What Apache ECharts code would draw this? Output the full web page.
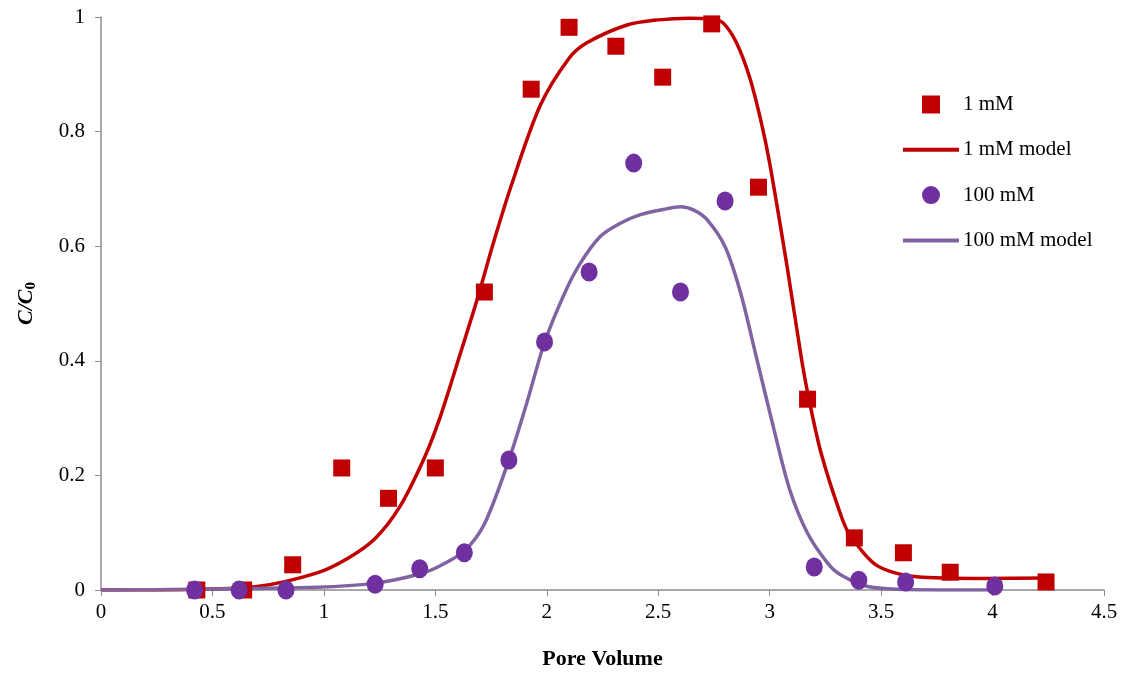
<!DOCTYPE html>
<html>
<head>
<meta charset="utf-8">
<script src="https://cdn.jsdelivr.net/npm/echarts@6/dist/echarts.min.js"></script>
<style>
  html, body { margin: 0; padding: 0; background: #fff; }
  #chart { width: 1137px; height: 675px; }
</style>
</head>
<body>
<div id="chart"></div>
<script>
// Measured breakthrough data (pore volume vs C/C0)
const pv1mM = [0.43, 0.64, 0.86, 1.08, 1.29, 1.50, 1.72, 1.93, 2.10, 2.31, 2.52, 2.74, 2.95, 3.17, 3.38, 3.60, 3.81, 4.24];
const c1mM  = [0, 0, 0.044, 0.213, 0.16, 0.213, 0.52, 0.874, 0.982, 0.949, 0.895, 0.988, 0.703, 0.333, 0.091, 0.065, 0.031, 0.014];

const pv100mM = [0.42, 0.62, 0.83, 1.23, 1.43, 1.63, 1.83, 1.99, 2.19, 2.39, 2.60, 2.80, 3.20, 3.40, 3.61, 4.01];
const c100mM  = [0, 0, 0, 0.01, 0.037, 0.065, 0.227, 0.433, 0.555, 0.745, 0.52, 0.679, 0.04, 0.017, 0.014, 0.007];

// Model curves
const pvModel1mM = [0, 0.4, 0.7, 0.97, 1.11, 1.23, 1.34, 1.45, 1.52, 1.61, 1.69, 1.76, 1.84, 1.97, 2.10, 2.18, 2.36, 2.50, 2.64, 2.74, 2.79, 2.85, 2.91, 2.96, 3.00, 3.08, 3.14, 3.17, 3.23, 3.32, 3.36, 3.48, 3.66, 3.96, 4.25];
const cModel1mM  = [0, 0.001, 0.006, 0.03, 0.056, 0.09, 0.145, 0.23, 0.30, 0.41, 0.51, 0.605, 0.705, 0.845, 0.928, 0.955, 0.986, 0.995, 0.998, 0.996, 0.99, 0.956, 0.895, 0.82, 0.745, 0.56, 0.41, 0.345, 0.24, 0.13, 0.096, 0.043, 0.023, 0.02, 0.021];

const pvModel100mM = [0, 0.97, 1.23, 1.43, 1.52, 1.63, 1.72, 1.83, 1.91, 1.99, 2.08, 2.15, 2.24, 2.33, 2.42, 2.52, 2.60, 2.66, 2.72, 2.80, 2.87, 2.94, 3.02, 3.09, 3.17, 3.26, 3.32, 3.44, 3.60, 4.01];
const cModel100mM  = [0, 0.005, 0.012, 0.028, 0.042, 0.068, 0.115, 0.227, 0.326, 0.432, 0.518, 0.570, 0.617, 0.640, 0.655, 0.664, 0.669, 0.663, 0.646, 0.599, 0.518, 0.407, 0.279, 0.175, 0.099, 0.047, 0.026, 0.006, 0.001, 0];

const seriesNames = ['1 mM', '1 mM model', '100 mM', '100 mM model'];

const zip = (xs, ys) => xs.map((x, i) => [x, ys[i]]);

const FONT = '"Liberation Serif", "Times New Roman", serif';
const AXIS_GRAY = '#8c8c8c';
const RED = '#C00000';
const PURPLE_LINE = '#8064A2';
const PURPLE_DOT = '#7030A0';

// Legend glyphs: solid square for data, flat bar for model curves
const SQUARE_ICON = 'path://M0,0L10,0L10,10L0,10Z';
const BAR_ICON = 'path://M0,0L56,0L56,4L0,4Z';

const chart = echarts.init(document.getElementById('chart'));
chart.setOption({
  animation: false,
  textStyle: { fontFamily: FONT },
  grid: { left: 101, right: 33, top: 17, bottom: 85 },
  legend: {
    orient: 'vertical',
    left: 903,
    top: 94,
    padding: 0,
    itemWidth: 56,
    itemHeight: 18,
    itemGap: 24.3,
    symbolKeepAspect: true,
    textStyle: { fontFamily: FONT, fontSize: 21, color: '#000', padding: [0, 0, 0, -1] },
    data: [
      { name: seriesNames[0], icon: SQUARE_ICON },
      { name: seriesNames[1], icon: BAR_ICON },
      { name: seriesNames[2], icon: 'circle' },
      { name: seriesNames[3], icon: BAR_ICON }
    ]
  },
  xAxis: {
    type: 'value',
    min: 0,
    max: 4.5,
    interval: 0.5,
    name: 'Pore Volume',
    nameLocation: 'middle',
    nameGap: 58,
    nameTextStyle: { fontFamily: FONT, fontSize: 22, fontWeight: 'bold', color: '#000' },
    axisLine: { show: true, lineStyle: { color: AXIS_GRAY, width: 1.5 } },
    axisTick: { show: true, inside: false, length: 6, lineStyle: { color: AXIS_GRAY } },
    axisLabel: { fontFamily: FONT, fontSize: 21, color: '#000', margin: 12 },
    splitLine: { show: false }
  },
  yAxis: {
    type: 'value',
    min: 0,
    max: 1,
    interval: 0.2,
    name: '{i|C/C}{s|0}',
    nameLocation: 'middle',
    nameGap: 62,
    nameRotate: 90,
    nameTextStyle: {
      rich: {
        i: { fontFamily: FONT, fontSize: 22, fontWeight: 'bold', fontStyle: 'italic', color: '#000' },
        s: { fontFamily: FONT, fontSize: 15, fontWeight: 'bold', color: '#000', verticalAlign: 'bottom', padding: [10, 0, 0, 0] }
      }
    },
    axisLine: { show: true, lineStyle: { color: AXIS_GRAY, width: 1.5 } },
    axisTick: { show: true, inside: false, length: 6, lineStyle: { color: AXIS_GRAY } },
    axisLabel: { fontFamily: FONT, fontSize: 21, color: '#000', margin: 16 },
    splitLine: { show: false }
  },
  series: [
    {
      name: seriesNames[1],
      type: 'line',
      data: zip(pvModel1mM, cModel1mM),
      showSymbol: false,
      symbol: 'none',
      smooth: 0.3,
      lineStyle: { color: RED, width: 3.5 },
      itemStyle: { color: RED },
      z: 2
    },
    {
      name: seriesNames[3],
      type: 'line',
      data: zip(pvModel100mM, cModel100mM),
      showSymbol: false,
      symbol: 'none',
      smooth: 0.3,
      lineStyle: { color: PURPLE_LINE, width: 3.5 },
      itemStyle: { color: PURPLE_LINE },
      z: 2
    },
    {
      name: seriesNames[0],
      type: 'scatter',
      data: zip(pv1mM, c1mM),
      symbol: 'rect',
      symbolSize: 17,
      itemStyle: { color: RED, opacity: 1 },
      z: 3
    },
    {
      name: seriesNames[2],
      type: 'scatter',
      data: zip(pv100mM, c100mM),
      symbol: 'circle',
      symbolSize: [17, 19],
      itemStyle: { color: PURPLE_DOT, opacity: 1 },
      z: 4
    }
  ]
});
</script>
</body>
</html>
